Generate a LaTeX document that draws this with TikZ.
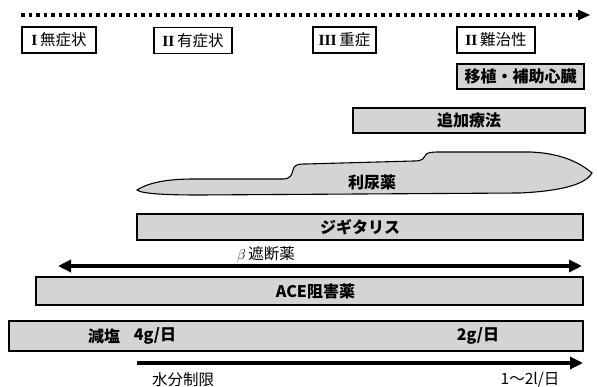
\documentclass[tikz,border=0pt]{standalone}
\usepackage{fontspec}
\setmainfont{Noto Sans CJK JP}
\newfontfamily\romfont{Liberation Serif}
\usetikzlibrary{arrows.meta}
\tikzset{
  stagebox/.style={draw=black, line width=1.1pt, fill=white, minimum height=26pt, inner sep=2pt, font=\fontsize{15.5pt}{17pt}\selectfont},
  shbox/.style={draw=black, line width=1.1pt, fill=black!17, inner sep=0pt, font=\bfseries\fontsize{16pt}{18pt}\selectfont},
  lbl/.style={inner sep=0pt, font=\fontsize{15.5pt}{17pt}\selectfont},
  blbl/.style={inner sep=0pt, font=\bfseries\fontsize{16pt}{18pt}\selectfont},
  dotline/.style={line width=3.5pt, dash pattern=on 3.6pt off 3.9pt, line cap=butt},
  thickarrow/.style={line width=3.8pt},
}
\begin{document}
\begin{tikzpicture}[x=1pt,y=-1pt]
\useasboundingbox (0,0) rectangle (597,387);

% timeline
\coordinate (t0) at (21,15);
\coordinate (t1) at (578,15);
\coordinate (t2) at (590,15);
\draw[dotline] (t0) -- (t1);
\fill ([yshift=-5.5pt]t1) -- (t2) -- ([yshift=5.5pt]t1) -- cycle;

% stages
\node[stagebox, minimum width=74pt] (s1) at (59,40) {{\romfont\bfseries I}\,無症状};
\node[stagebox, minimum width=78pt] (s2) at (193,40.5) {{\romfont\bfseries II}\,有症状};
\node[stagebox, minimum width=63pt] (s3) at (344.5,40) {{\romfont\bfseries III}\,重症};
\node[stagebox, minimum width=78pt] (s4) at (496,40) {{\romfont\bfseries II}\,難治性};

% therapies
\node[shbox, minimum width=127pt, minimum height=25pt] (tr) at (520.5,76.5) {移植・補助心臓};
\node[shbox, minimum width=232pt, minimum height=25pt] (add) at (469,120.5) {追加療法};

% diuretics shape
\draw[line width=1.1pt, fill=black!17]
  (137,190) .. controls (150,182) and (168,179) .. (195,179)
  -- (283,179) .. controls (291,179) and (292,174) .. (293,170)
  .. controls (294,165) and (297,164) .. (306,164)
  -- (414,161) .. controls (423,161) and (424,158) .. (425,156)
  .. controls (426,153) and (429,152) .. (440,152)
  -- (530,152) .. controls (558,153) and (578,161) .. (592,173)
  .. controls (585,185) and (560,191) .. (520,193)
  -- (200,195) .. controls (168,195) and (142,194) .. (137,190) -- cycle;
\node[blbl] (diu) at (372,182) {利尿薬};

\node[shbox, minimum width=446pt, minimum height=26pt] (dig) at (360,227) {ジギタリス};

% beta blocker
\coordinate (b0) at (58,266);
\coordinate (b1) at (582,266);
\draw[thickarrow, {Triangle[length=13pt,width=12pt]}-{Triangle[length=13pt,width=12pt]}] (b0) -- (b1);
\node[lbl] (beta) at (266,254) {$\beta$\,遮断薬};

\node[shbox, minimum width=547pt, minimum height=28pt] (ace) at (309.5,291) {\hspace{12pt}ACE阻害薬};

% salt
\node[shbox, minimum width=574pt, minimum height=30pt] (salt) at (296,336) {};
\node[blbl] (salt1) at (104,336) {減塩};
\node[blbl] (salt2) at (155,336) {4g/日};
\node[blbl] (salt3) at (478,336) {2g/日};

% water
\coordinate (w0) at (137,363);
\coordinate (w1) at (583,363);
\draw[thickarrow, -{Triangle[length=13pt,width=12pt]}] (w0) -- (w1);
\node[lbl] (wat) at (183,380) {水分制限};
\node[lbl] (wat2) at (530,380) {1～2l/日};
\end{tikzpicture}
\end{document}
